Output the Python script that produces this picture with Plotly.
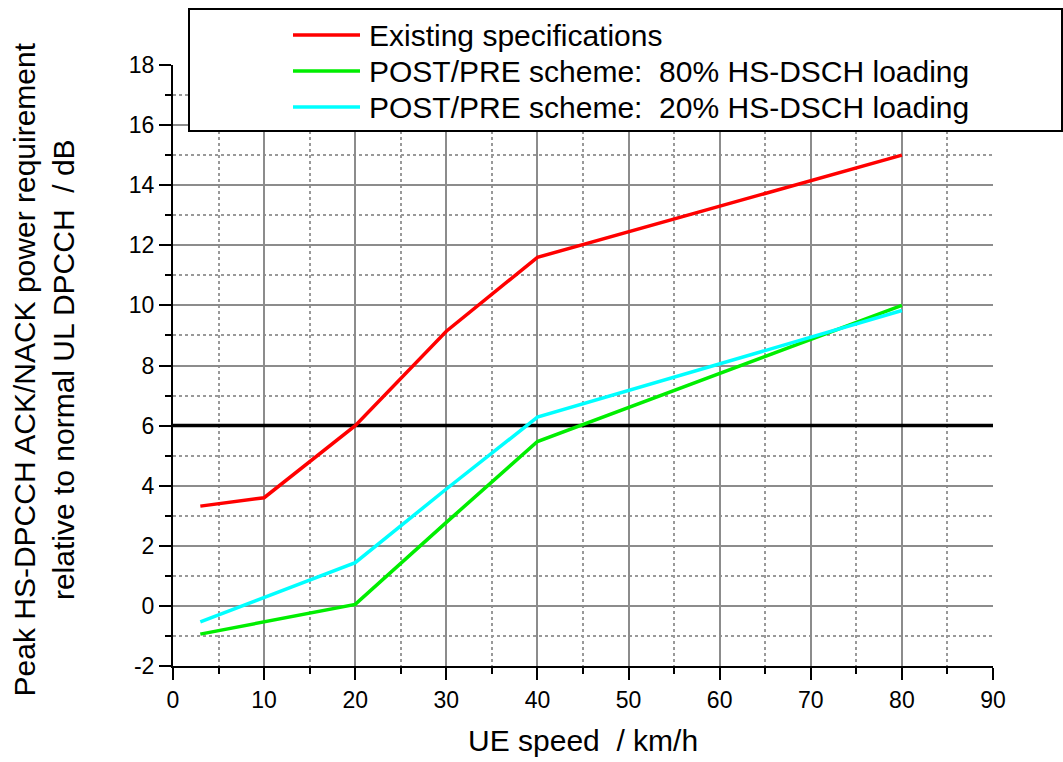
import plotly.graph_objects as go

# ---- data ----
speed = [3, 10, 20, 30, 40, 80]
existing = [3.32, 3.6, 6.0, 9.14, 11.6, 15.0]
post80 = [-0.94, -0.53, 0.05, 2.78, 5.47, 10.0]
post20 = [-0.53, 0.28, 1.44, 3.89, 6.28, 9.83]
threshold_x = [0, 90]
threshold_y = [6, 6]
series_names = ["Existing specifications",
                "POST/PRE scheme:\u00a0\u00a080% HS-DSCH loading",
                "POST/PRE scheme:\u00a0\u00a020% HS-DSCH loading"]
series_colors = ["#ff0000", "#00ee00", "#00ffff"]
x_ticks = list(range(0, 91, 10))
y_ticks = list(range(-2, 19, 2))
y_ticktext = [str(v) for v in y_ticks]

FONT = "Liberation Sans, Arial, sans-serif"
W, H = 1063, 762
ML, MR, MT, MB = 173, 70, 65, 96
PW = W - ML - MR
PH = H - MT - MB


def pxx(p):
    return (p - ML) / PW


def pxy(p):
    return (H - MB - p) / PH


fig = go.Figure()
fig.add_trace(go.Scatter(x=threshold_x, y=threshold_y, mode="lines",
                         line=dict(color="black", width=3.5), showlegend=False,
                         hoverinfo="skip"))
for ys, nm, col in zip([existing, post80, post20], series_names, series_colors):
    fig.add_trace(go.Scatter(x=speed, y=ys, mode="lines", name=nm,
                             line=dict(color=col, width=3.5), showlegend=False))

axis_common = dict(
    showline=True, linecolor="black", linewidth=2,
    ticks="outside", ticklen=12, tickwidth=2, tickcolor="black",
    showgrid=True, gridcolor="#8c8c8c", gridwidth=1.5,
    zeroline=False, tickfont=dict(family=FONT, size=23, color="black"),
)

fig.update_xaxes(range=[0, 90], tickvals=x_ticks, **axis_common,
                 minor=dict(dtick=5, tick0=0, ticks="outside", ticklen=6, tickwidth=2,
                            tickcolor="black", showgrid=True, gridcolor="#999999",
                            griddash="dot", gridwidth=1.5))
fig.update_yaxes(range=[-2, 18], tickvals=y_ticks, ticktext=y_ticktext, **axis_common,
                 minor=dict(dtick=1, tick0=0, ticks="outside", ticklen=6, tickwidth=2,
                            tickcolor="black", showgrid=True, gridcolor="#999999",
                            griddash="dot", gridwidth=1.5))

shapes = []
# hide edge gridlines (x=90 right edge, y=18 top edge)
shapes.append(dict(type="line", xref="x", yref="paper", x0=90, x1=90, y0=0, y1=1,
                   line=dict(color="white", width=3), layer="between"))
shapes.append(dict(type="line", xref="paper", yref="y", x0=0, x1=1, y0=18, y1=18,
                   line=dict(color="white", width=3), layer="between"))
# legend box
shapes.append(dict(type="rect", xref="paper", yref="paper",
                   x0=pxx(189), x1=pxx(1062), y0=pxy(131), y1=pxy(9),
                   line=dict(color="black", width=2), fillcolor="white", layer="above"))
rows = [35, 71, 107]
annotations = []
for r, nm, col in zip(rows, series_names, series_colors):
    shapes.append(dict(type="line", xref="paper", yref="paper",
                       x0=pxx(293), x1=pxx(360), y0=pxy(r), y1=pxy(r),
                       line=dict(color=col, width=3.5), layer="above"))
    annotations.append(dict(text=nm, xref="paper", yref="paper", x=pxx(367), y=pxy(r),
                            xanchor="left", yanchor="middle", showarrow=False,
                            font=dict(family=FONT, size=30, color="black")))

annotations.append(dict(text="Peak HS-DPCCH ACK/NACK power requirement<br>relative to normal UL DPCCH\u00a0\u00a0/ dB",
                        xref="paper", yref="paper", x=pxx(43), y=pxy(369.5),
                        xanchor="center", yanchor="middle", textangle=-90, showarrow=False,
                        font=dict(family=FONT, size=30, color="black")))
annotations.append(dict(text="UE speed\u00a0\u00a0/ km/h", xref="paper", yref="paper",
                        x=pxx(583), y=pxy(741), xanchor="center", yanchor="middle",
                        showarrow=False, font=dict(family=FONT, size=30, color="black")))

fig.update_layout(width=W, height=H, margin=dict(l=ML, r=MR, t=MT, b=MB),
                  plot_bgcolor="white", paper_bgcolor="white",
                  shapes=shapes, annotations=annotations, showlegend=False)

fig.write_html("out.html")
